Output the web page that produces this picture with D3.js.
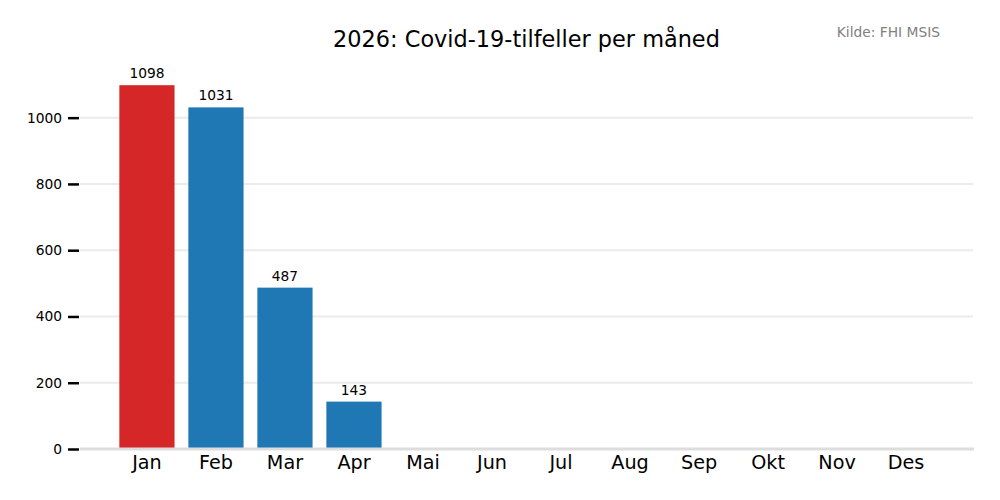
<!DOCTYPE html>
<html>
<head>
<meta charset="utf-8">
<script src="https://cdn.jsdelivr.net/npm/d3@7"></script>
<style>
  body { margin: 0; background: #fff; }
  svg { font-family: "DejaVu Sans", sans-serif; }
</style>
</head>
<body>
<svg id="chart" width="1000" height="500"></svg>
<script>
const months = ["Jan", "Feb", "Mar", "Apr", "Mai", "Jun", "Jul", "Aug", "Sep", "Okt", "Nov", "Des"];
const cases = [1098, 1031, 487, 143];
const yTicks = [0, 200, 400, 600, 800, 1000];
const highlightMonth = "Jan";

const svg = d3.select("#chart");
const plotLeft = 80, plotRight = 973, plotTop = 67, plotBottom = 449;

const data = cases.map((v, i) => ({ month: months[i], value: v }));

const x = d3.scaleBand()
  .domain(months)
  .range([plotLeft, plotRight])
  .paddingInner(0.2)
  .paddingOuter(0.57);

const y = d3.scaleLinear()
  .domain([0, d3.max(cases) * 1.05])
  .range([plotBottom, plotTop]);

// gridlines
svg.append("g")
  .selectAll("line")
  .data(yTicks.filter(d => d > 0))
  .join("line")
  .attr("x1", plotLeft).attr("x2", plotRight)
  .attr("y1", d => y(d)).attr("y2", d => y(d))
  .attr("stroke", "#ebebeb")
  .attr("stroke-width", 2);

// bars
svg.append("g")
  .selectAll("rect")
  .data(data)
  .join("rect")
  .attr("x", d => x(d.month))
  .attr("width", x.bandwidth())
  .attr("y", d => y(d.value))
  .attr("height", d => y(0) - y(d.value))
  .attr("fill", d => d.month === highlightMonth ? "#d62728" : "#1f77b4");

// value labels
svg.append("g")
  .selectAll("text")
  .data(data)
  .join("text")
  .attr("x", d => x(d.month) + x.bandwidth() / 2)
  .attr("y", d => y(d.value) - 7)
  .attr("text-anchor", "middle")
  .attr("font-size", 13.8)
  .attr("fill", "#000")
  .text(d => d.value);

// baseline
svg.append("line")
  .attr("x1", plotLeft).attr("x2", plotRight + 1)
  .attr("y1", y(0)).attr("y2", y(0))
  .attr("stroke", "#dddddd")
  .attr("stroke-width", 3);

// y axis
const yAxis = svg.append("g")
  .attr("transform", `translate(${plotLeft - 1},0)`)
  .call(d3.axisLeft(y).tickValues(yTicks).tickFormat(d3.format("d")).tickSize(11).tickPadding(6));
yAxis.select(".domain").remove();
yAxis.selectAll(".tick line").attr("stroke", "#000").attr("stroke-width", 2.5);
yAxis.selectAll(".tick text")
  .attr("font-size", 13.8)
  .attr("font-family", "DejaVu Sans, sans-serif")
  .attr("fill", "#000");

// x axis
const xAxis = svg.append("g")
  .attr("transform", `translate(0,${plotBottom})`)
  .call(d3.axisBottom(x).tickSize(0).tickPadding(6));
xAxis.select(".domain").remove();
xAxis.selectAll(".tick text")
  .attr("font-size", 19.2)
  .attr("font-family", "DejaVu Sans, sans-serif")
  .attr("fill", "#000");

// title
svg.append("text")
  .attr("x", (plotLeft + plotRight) / 2)
  .attr("y", 47)
  .attr("text-anchor", "middle")
  .attr("font-size", 22.4)
  .attr("fill", "#000")
  .text("2026: Covid-19-tilfeller per måned");

// source
svg.append("text")
  .attr("x", 940)
  .attr("y", 37)
  .attr("text-anchor", "end")
  .attr("font-size", 13.8)
  .attr("fill", "#808080")
  .text("Kilde: FHI MSIS");
</script>
</body>
</html>
